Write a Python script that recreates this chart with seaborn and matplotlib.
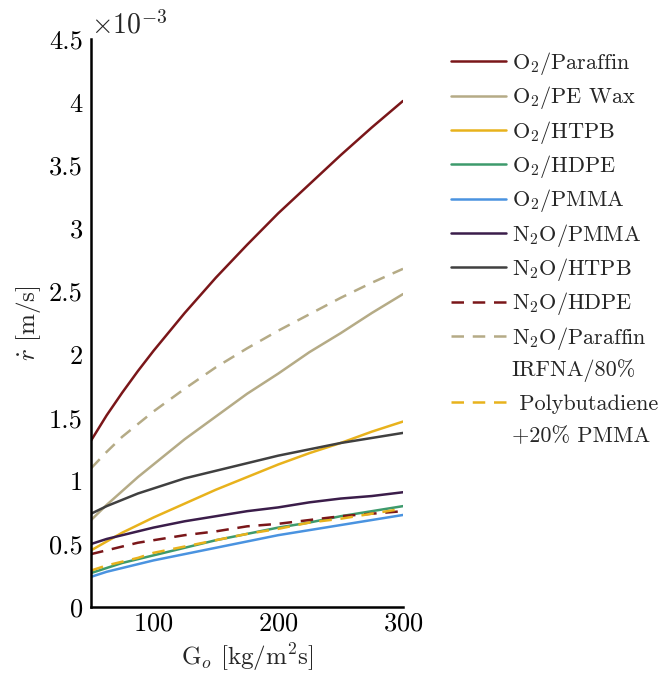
import numpy as np
import pandas as pd
import seaborn as sns
import matplotlib.pyplot as plt
from matplotlib.ticker import FuncFormatter

# mass flux [kg/m^2 s]
G = [50, 62.5, 75, 87.5, 100, 125, 150, 175, 200, 225, 250, 275, 300]

# regression rates, in units of 1e-3 m/s
o2_paraffin   = [1.32, 1.52, 1.70, 1.87, 2.03, 2.33, 2.61, 2.87, 3.12, 3.35, 3.58, 3.80, 4.01]
o2_pewax      = [0.69, 0.81, 0.92, 1.03, 1.13, 1.33, 1.51, 1.69, 1.85, 2.02, 2.17, 2.33, 2.48]
o2_htpb       = [0.45, 0.52, 0.59, 0.65, 0.71, 0.82, 0.93, 1.03, 1.13, 1.22, 1.30, 1.39, 1.47]
o2_hdpe       = [0.27, 0.31, 0.35, 0.38, 0.41, 0.47, 0.53, 0.58, 0.63, 0.67, 0.72, 0.76, 0.80]
o2_pmma       = [0.24, 0.28, 0.31, 0.34, 0.37, 0.42, 0.47, 0.52, 0.57, 0.61, 0.65, 0.69, 0.73]
n2o_pmma      = [0.50, 0.54, 0.57, 0.60, 0.63, 0.68, 0.72, 0.76, 0.79, 0.83, 0.86, 0.88, 0.91]
n2o_htpb      = [0.74, 0.80, 0.85, 0.90, 0.94, 1.02, 1.08, 1.14, 1.20, 1.25, 1.30, 1.34, 1.38]
n2o_hdpe      = [0.42, 0.45, 0.48, 0.51, 0.53, 0.57, 0.60, 0.64, 0.66, 0.69, 0.72, 0.74, 0.76]
n2o_paraffin  = [1.10, 1.23, 1.35, 1.45, 1.55, 1.73, 1.90, 2.05, 2.19, 2.32, 2.45, 2.57, 2.68]
irfna_pb      = [0.29, 0.33, 0.36, 0.39, 0.43, 0.48, 0.53, 0.58, 0.62, 0.67, 0.70, 0.74, 0.78]

labels = [r"O$_2$/Paraffin", r"O$_2$/PE Wax", r"O$_2$/HTPB", r"O$_2$/HDPE",
          r"O$_2$/PMMA", r"N$_2$O/PMMA", r"N$_2$O/HTPB", r"N$_2$O/HDPE",
          r"N$_2$O/Paraffin", "IRFNA/80%\n Polybutadiene\n+20% PMMA"]
series = [o2_paraffin, o2_pewax, o2_htpb, o2_hdpe, o2_pmma,
          n2o_pmma, n2o_htpb, n2o_hdpe, n2o_paraffin, irfna_pb]
colors = ["#7a1619", "#b5ab86", "#e8b21c", "#3d9a6c", "#4a93e0",
          "#3b1d4a", "#404040", "#7a1619", "#b5ab86", "#e8b21c"]
dashed = [False] * 7 + [True] * 3

sns.set_style("white")
plt.rcParams["font.family"] = "serif"
plt.rcParams["font.serif"] = ["cmr10"]
plt.rcParams["mathtext.fontset"] = "cm"
plt.rcParams["axes.formatter.use_mathtext"] = True

fig = plt.figure(figsize=(6.65, 6.86), dpi=100)
ax = fig.add_axes([0.137, 0.115, 0.469, 0.828])

for lab, vals, col, d in zip(labels, series, colors, dashed):
    df = pd.DataFrame({"G": G, "r": np.array(vals) * 1e-3})
    sns.lineplot(data=df, x="G", y="r", ax=ax, color=col, lw=1.8, label=lab)
    if d:
        ax.lines[-1].set_dashes((5, 3.5))

ax.set_xlim(50, 300)
ax.set_ylim(0, 4.5e-3)
ax.set_xticks([100, 200, 300])
ax.set_yticks(np.arange(0, 4.51, 0.5) * 1e-3)
ax.yaxis.set_major_formatter(FuncFormatter(lambda v, p: f"{v*1e3:g}"))
ax.tick_params(direction="in", length=6, width=1.5, labelsize=19, colors="black")
ax.tick_params(axis="y", pad=6)
for s in ["top", "right"]:
    ax.spines[s].set_visible(False)
for s in ["left", "bottom"]:
    ax.spines[s].set_linewidth(1.8)
    ax.spines[s].set_color("black")

ax.text(0.0, 1.0, r"$\times10^{-3}$", transform=ax.transAxes, ha="left",
        va="bottom", fontsize=20)
ax.set_xlabel(r"G$_o$ [kg/m$^2$s]", fontsize=18)
ax.set_ylabel(r"$\dot{r}$ [m/s]", fontsize=18)

leg = ax.legend(loc="upper left", bbox_to_anchor=(1.09, 1.016), frameon=False,
                fontsize=16, handlelength=2.45, handletextpad=0.27,
                labelspacing=0.33)
for t in leg.get_texts():
    t.set_linespacing(1.8)

plt.savefig("out.png", dpi=100)
